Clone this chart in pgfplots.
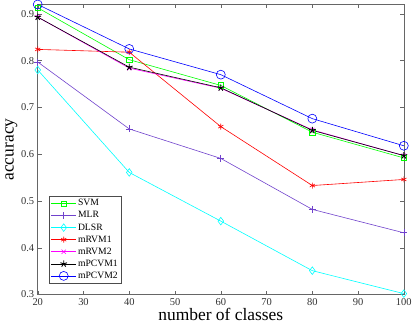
\documentclass[border={2pt 0pt 0pt 0pt}]{standalone}
\usepackage{fontspec}
\setmainfont{Liberation Serif}
\usepackage{pgfplots}
\pgfplotsset{compat=1.18}
\definecolor{mlrpurple}{rgb}{0.44,0.26,0.80}
\definecolor{mcyan}{rgb}{0,1,1}
\definecolor{mmagenta}{rgb}{1,0,1}
\definecolor{mgreen}{rgb}{0,1,0}
\definecolor{mred}{rgb}{1,0,0}
\definecolor{mblue}{rgb}{0,0,1}
\begin{document}
\begin{tikzpicture}
\begin{axis}[
  scale only axis,
  width=366bp, height=290bp,
  xmin=20, xmax=100, ymin=0.3, ymax=0.92,
  xtick={20,30,...,100},
  ytick={0.3,0.4,...,0.9},
  tick align=inside,
  tick style={black!60, line width=0.4pt},
  major tick length=4bp,
  axis line style={black!60, line width=0.5pt},
  /pgf/number format/assume math mode=true,
  /pgf/number format/fixed,
  ticklabel style={font=\fontsize{10.5}{12}\selectfont, text=black!80},
  xlabel={number of classes},
  ylabel={accuracy},
  label style={font=\fontsize{17.5}{19}\selectfont},
  xlabel style={yshift=4bp},
  ylabel style={yshift=-3bp},
  legend style={at={(0.03,0.038)}, anchor=south west, font=\fontsize{9.7}{11}\selectfont,
    draw=black!70, inner sep=2pt, row sep=1.2pt, nodes={inner sep=1.5pt}},
  legend cell align=left,
  legend image code/.code={
    \draw[mark repeat=2,mark phase=2] plot coordinates {(0bp,0bp) (12.5bp,0bp) (25bp,0bp)};
  },
  every axis plot/.append style={line width=0.6pt},
]
\addplot[mgreen, mark=square, mark size=2.7pt] coordinates {(20,0.913) (40,0.802) (60,0.747) (80,0.647) (100,0.592)};
\addlegendentry{SVM}
\addplot[mlrpurple, mark=+, mark size=3.5pt] coordinates {(20,0.797) (40,0.654) (60,0.591) (80,0.482) (100,0.432)};
\addlegendentry{MLR}
\addplot[mcyan, mark=diamond, mark size=3.8pt] coordinates {(20,0.780) (40,0.561) (60,0.457) (80,0.351) (100,0.302)};
\addlegendentry{DLSR}
\addplot[mred, mark=asterisk, mark size=3pt] coordinates {(20,0.824) (40,0.818) (60,0.659) (80,0.533) (100,0.546)};
\addlegendentry{mRVM1}
\addplot[mmagenta, mark=x, mark size=3pt] coordinates {(20,0.893) (40,0.784) (60,0.741) (80,0.652) (100,0.597)};
\addlegendentry{mRVM2}
\addplot[black, mark=star, mark size=3.5pt, mark options={line width=0.9pt}] coordinates {(20,0.893) (40,0.786) (60,0.742) (80,0.651) (100,0.597)};
\addlegendentry{mPCVM1}
\addplot[mblue, mark=o, mark size=4.5pt] coordinates {(20,0.920) (40,0.825) (60,0.770) (80,0.676) (100,0.618)};
\addlegendentry{mPCVM2}
\end{axis}
\end{tikzpicture}
\end{document}
